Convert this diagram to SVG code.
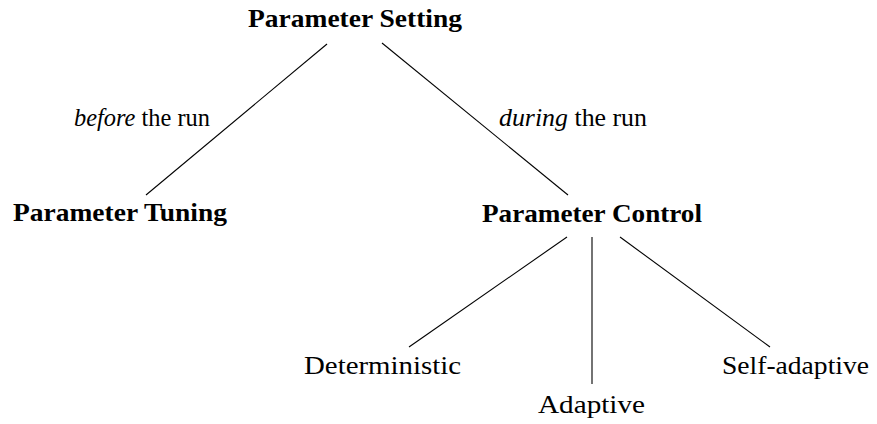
<svg xmlns="http://www.w3.org/2000/svg" width="877" height="424" viewBox="0 0 877 424">
  <style>
    text { font-family: "Liberation Serif", "DejaVu Serif", serif; font-size: 25px; fill: #000; }
    .bold { font-weight: bold; }
    .it { font-style: italic; }
    .edge { stroke: #000; stroke-width: 1.1; fill: none; }
  </style>
  <rect width="877" height="424" fill="#fff"/>

  <!-- tree edges -->
  <g id="connectors">
    <line class="edge" x1="327" y1="44" x2="146" y2="195"/>
    <line class="edge" x1="382" y1="43" x2="568" y2="195"/>
    <line class="edge" x1="567" y1="237" x2="409" y2="347"/>
    <line class="edge" x1="592" y1="237" x2="592" y2="384"/>
    <line class="edge" x1="620" y1="237" x2="770" y2="347"/>
  </g>

  <!-- edge labels -->
  <g id="label-before">
    <text x="74" y="126" textLength="136" lengthAdjust="spacingAndGlyphs"><tspan class="it">before</tspan> the run</text>
  </g>
  <g id="label-during">
    <text x="499" y="126" textLength="148" lengthAdjust="spacingAndGlyphs"><tspan class="it">during</tspan> the run</text>
  </g>

  <!-- nodes -->
  <g id="node-setting">
    <text class="bold" x="248" y="27" textLength="214" lengthAdjust="spacingAndGlyphs">Parameter Setting</text>
  </g>
  <g id="node-tuning">
    <text class="bold" x="13" y="221" textLength="214" lengthAdjust="spacingAndGlyphs">Parameter Tuning</text>
  </g>
  <g id="node-control">
    <text class="bold" x="482" y="222" textLength="220" lengthAdjust="spacingAndGlyphs">Parameter Control</text>
  </g>
  <g id="node-deterministic">
    <text x="304" y="374" textLength="157" lengthAdjust="spacingAndGlyphs">Deterministic</text>
  </g>
  <g id="node-adaptive">
    <text x="538" y="413" textLength="107" lengthAdjust="spacingAndGlyphs">Adaptive</text>
  </g>
  <g id="node-selfadaptive">
    <text x="722" y="374" textLength="147" lengthAdjust="spacingAndGlyphs">Self-adaptive</text>
  </g>
</svg>
